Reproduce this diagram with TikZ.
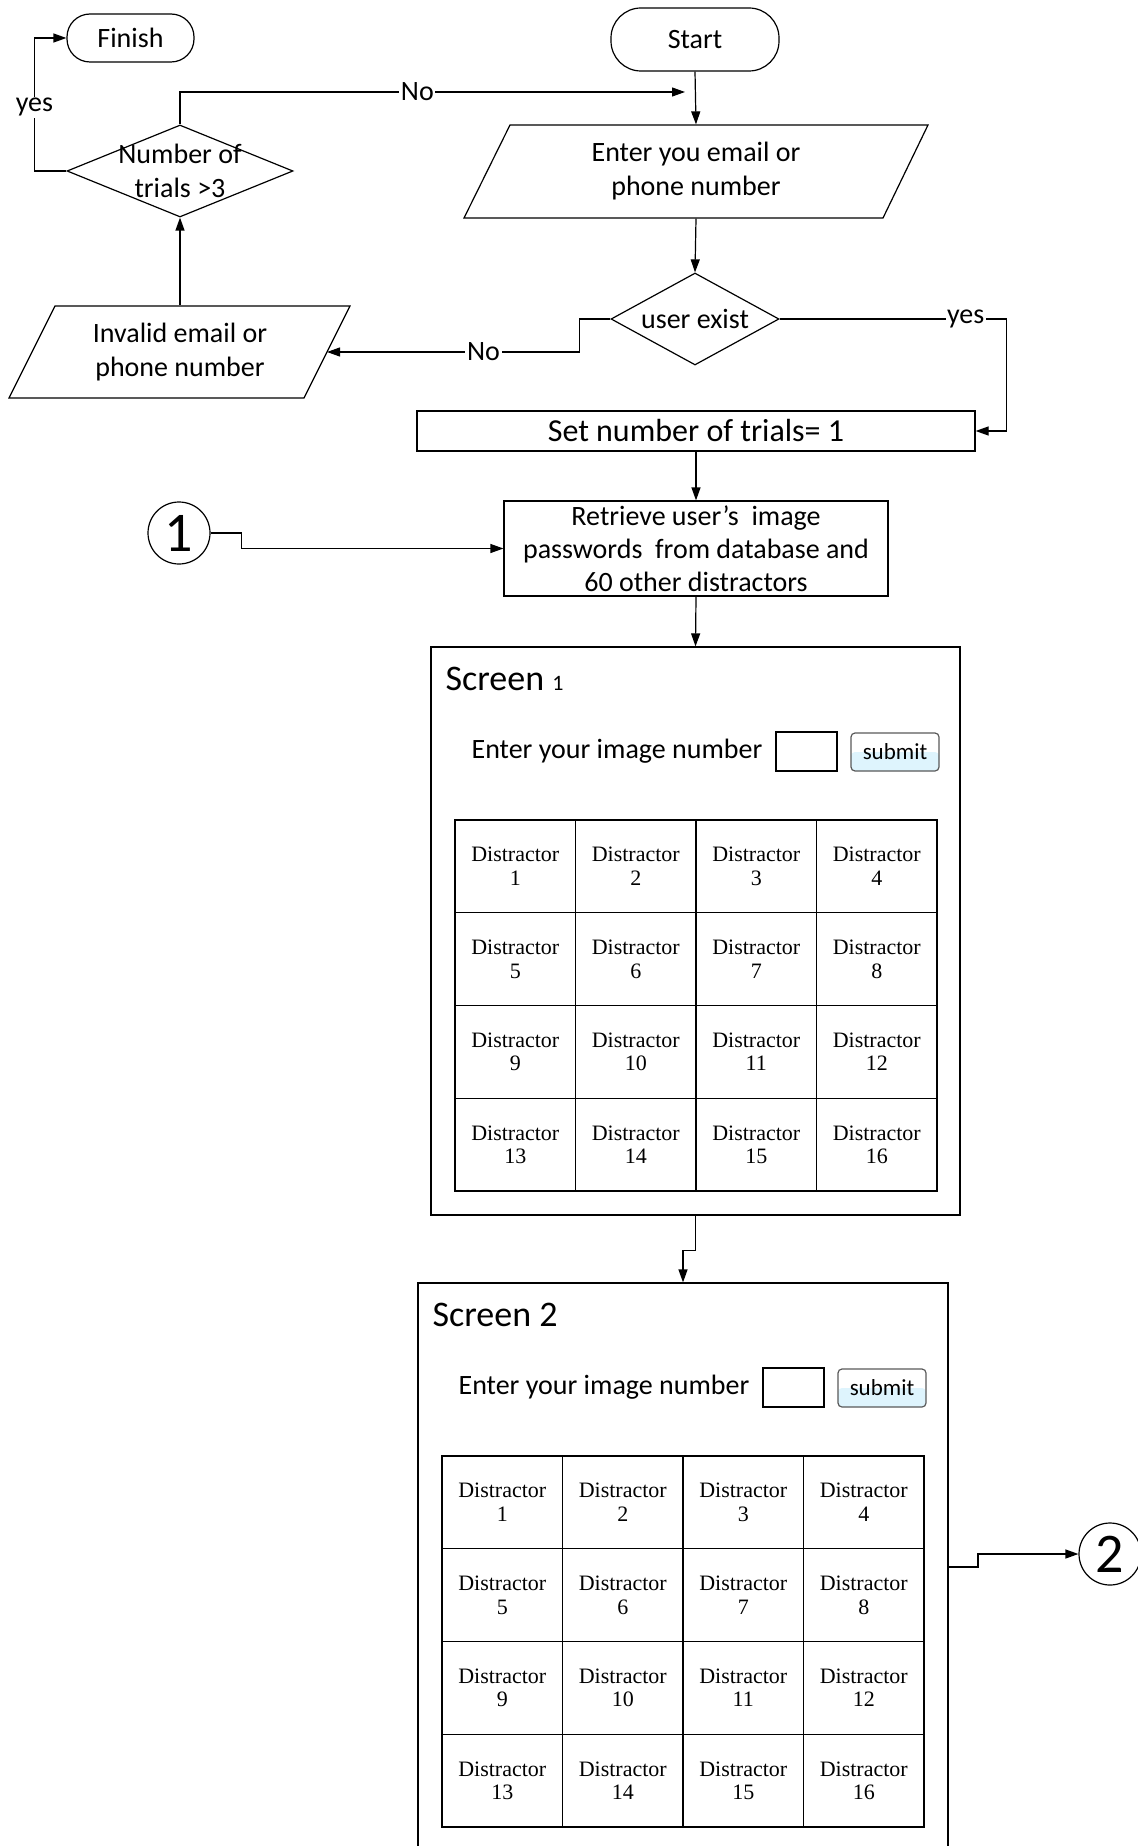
\documentclass[tikz,border=0pt]{standalone}
\usepackage{fontspec}
\setmainfont{Carlito}
\newfontfamily\distfont{Liberation Serif}
\usetikzlibrary{arrows.meta,shapes.geometric}

\newcommand\ScreenUI[3]{%
  \begin{scope}[shift={#3}]
    \node[anchor=west, font=\fontsize{18}{20}\selectfont, inner sep=0pt] (#1title) at (14,32) {#2};
    \node[anchor=west, txt, inner sep=0pt] (#1enter) at (40,104) {Enter your image number};
    \node[draw, minimum width=30.5pt, minimum height=19.5pt, inner sep=0pt] (#1inp) at (375.5,104.5) {};
    \node[subbtn] (#1sub) at (464,105) {submit};
    \foreach \r in {0,...,3}{
      \foreach \c in {0,...,3}{
        \pgfmathtruncatemacro\n{\r*4+\c+1}
        \node[cell] (#1cell\n) at ({84.25+\c*120.5},{219.375+\r*92.75}) {Distractor\\\n};
      }
    }
  \end{scope}}

\begin{document}
\begin{tikzpicture}[x=0.5pt,y=-0.5pt, line width=0.6pt,
  arr/.style={-{Triangle[length=6.5pt,width=4.5pt]}},
  txt/.style={font=\fontsize{14}{17}\selectfont, align=center},
  lbl/.style={fill=white, inner sep=0.8pt, font=\fontsize{14}{17}\selectfont},
  term/.style={draw, rectangle, txt},
  subbtn/.style={draw=black!65, rounded corners=2pt, minimum width=44pt, minimum height=19pt, inner sep=0pt,
    font=\fontsize{11.5}{13}\selectfont,
    path picture={\fill[cyan!13] (path picture bounding box.west) rectangle (path picture bounding box.south east);}},
  cell/.style={draw, minimum width=60.25pt, minimum height=46.375pt, inner sep=0pt, align=center,
    font=\distfont\fontsize{11}{11.8}\selectfont},
  circ/.style={draw, circle, minimum size=31pt, inner sep=0pt, font=\fontsize{28}{28}\selectfont}
]
\useasboundingbox (0,0) rectangle (1137,1846);

% terminals
\node[term, rounded corners=15pt, minimum width=84pt, minimum height=31.5pt] (start) at (695,39.5) {Start};
\node[term, rounded corners=11.5pt, minimum width=63.5pt, minimum height=24pt] (finish) at (130.5,38) {Finish};

% enter email parallelogram
\draw (464,218) -- (510,125) -- (928,125) -- (883,218) -- cycle;
\node[txt, minimum height=46.5pt, inner sep=0pt] (enter) at (696,171.5) {Enter you email or\\phone number};

% user exist
\node[draw, diamond, aspect=1.83, minimum width=84pt, minimum height=46pt, inner sep=0pt, txt] (uexist) at (695,319) {user exist};

% invalid parallelogram
\draw (9,398) -- (55,306) -- (350,306) -- (304,398) -- cycle;
\node[txt, minimum height=46pt, inner sep=0pt] (inval) at (180,352) {Invalid email or\\phone number};
\coordinate (invR) at (327,352);

% number of trials
\node[draw, diamond, minimum width=113pt, minimum height=46pt, inner sep=0pt] (trials) at (180,171) {};
\node[txt] (trialstxt) at (trials) {Number of\\trials >3};

% set number
\node[draw, minimum width=279pt, minimum height=20pt, inner sep=0pt, font=\fontsize{16}{19}\selectfont] (setn) at (696,431) {Set number of trials= 1};

% retrieve
\node[draw, minimum width=192pt, minimum height=47.5pt, inner sep=0pt, align=center, font=\fontsize{14}{16.5}\selectfont] (retr) at (696,548.5) {Retrieve user’s\ \ image\\passwords\ \ from database and\\60 other distractors};

% connectors circles
\node[circ] (c1) at (179,533) {1};
\node[circ] (c2) at (1110,1554) {2};

% screens
\node[draw, minimum width=264.5pt, minimum height=284pt, inner sep=0pt] (scr1) at (695.5,931) {};
\node[draw, minimum width=265pt, minimum height=308.5pt, inner sep=0pt] (scr2) at (683,1591.5) {};
\ScreenUI{sa}{Screen {\fontsize{11}{13}\selectfont 1}}{(431,647)}
\ScreenUI{sb}{Screen 2}{(418,1283)}
\coordinate (s2out) at (948,1567);
\coordinate (noin) at (685,92);

% flow connectors
\draw[arr] (start.south) -- (enter.north);
\draw[arr] (enter.south) -- (uexist.north);
\draw[arr] (uexist.west) -- ++(-31,0) |- node[lbl, pos=0.69]{No} (invR);
\draw[arr] (inval.north) -- (trials.south);
\draw[arr] (trials.north) |- node[lbl, pos=0.735]{No} (noin);
\draw[arr] (trials.west) -- ++(-32,0) |- node[lbl, pos=0.24]{yes} (finish.west);
\draw[arr] (uexist.east) -- node[lbl, pos=0.82]{yes} ++(227,0) |- (setn.east);
\draw[arr] (setn.south) -- (retr.north);
\draw[arr] (c1.east) -- ++(31,0) |- (retr.west);
\draw[arr] (retr.south) -- (scr1.north);
\draw[arr] (scr1.south) -- ++(0,35) -| (scr2.north);
\draw[arr] (s2out) -- ++(30,0) |- (c2.west);
\end{tikzpicture}
\end{document}
